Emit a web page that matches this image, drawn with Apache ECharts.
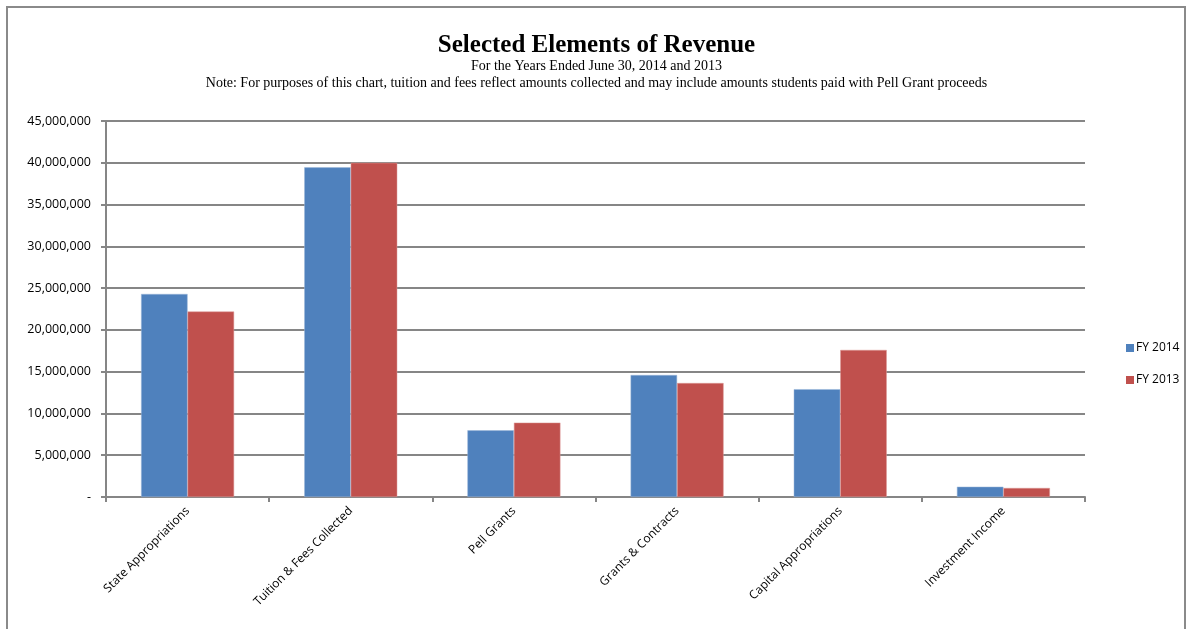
<!DOCTYPE html>
<html>
<head>
<meta charset="utf-8">
<script src="https://cdn.jsdelivr.net/npm/echarts@6/dist/echarts.min.js"></script>
<style>
  html, body { margin: 0; padding: 0; background: #fff; }
  #frame {
    position: absolute; left: 6px; top: 6px; width: 1180px; height: 640px;
    border: 2px solid #8a8a8a; box-sizing: border-box;
  }
  #main { position: absolute; left: 0; top: 0; width: 1193px; height: 629px; }
</style>
</head>
<body>
<div id="frame"></div>
<div id="main"></div>
<script>
const categories = [
  'State Appropriations',
  'Tuition & Fees Collected',
  'Pell Grants',
  'Grants & Contracts',
  'Capital Appropriations',
  'Investment Income'
]
const fy2014 = [24300000, 39450000, 7980000, 14600000, 12900000, 1230000]
const fy2013 = [22200000, 40000000, 8900000, 13640000, 17600000, 1080000]
const seriesNames = ['FY 2014', 'FY 2013']

const chart = echarts.init(document.getElementById('main'))

const labelFont = '"Open Sans", "Liberation Sans", sans-serif'
const titleFont = '"Liberation Serif", "DejaVu Serif", serif'

const option = {
  animation: false,
  title: [
    {
      text: 'Selected Elements of Revenue',
      left: 'center',
      top: 28,
      textStyle: { fontFamily: titleFont, fontWeight: 'bold', fontSize: 25, color: '#000' }
    },
    {
      text: 'For the Years Ended June 30, 2014 and 2013',
      left: 'center',
      top: 54,
      textStyle: { fontFamily: titleFont, fontWeight: 'normal', fontSize: 14, color: '#000' }
    },
    {
      text: 'Note: For purposes of this chart, tuition and fees reflect amounts collected and may include amounts students paid with Pell Grant proceeds',
      left: 'center',
      top: 71,
      textStyle: { fontFamily: titleFont, fontWeight: 'normal', fontSize: 14, color: '#000' }
    }
  ],
  legend: {
    orient: 'vertical',
    left: 1121,
    top: 337,
    itemWidth: 8,
    itemHeight: 8,
    itemGap: 20,
    icon: 'rect',
    itemStyle: { borderWidth: 0 },
    textStyle: { fontFamily: labelFont, fontSize: 12, color: '#000', padding: [0, 0, 0, -3] },
    data: seriesNames
  },
  grid: { left: 106, right: 108, top: 121, bottom: 132 },
  xAxis: {
    type: 'category',
    data: categories,
    axisLine: { lineStyle: { color: '#868686', width: 2 } },
    axisTick: { show: true, length: 5, alignWithLabel: false, lineStyle: { color: '#868686', width: 2 } },
    axisLabel: {
      rotate: 45,
      interval: 0,
      margin: 12,
      fontFamily: labelFont,
      fontSize: 12,
      color: '#000'
    }
  },
  yAxis: {
    type: 'value',
    min: 0,
    max: 45000000,
    interval: 5000000,
    axisLine: { show: true, lineStyle: { color: '#868686', width: 2 } },
    axisTick: { show: true, length: 5, lineStyle: { color: '#868686', width: 2 } },
    splitLine: { show: true, lineStyle: { color: '#868686', width: 2 } },
    axisLabel: {
      margin: 15,
      fontFamily: labelFont,
      fontSize: 12.5,
      color: '#000',
      formatter: function (v) {
        return v === 0 ? '-' : v.toLocaleString('en-US')
      }
    }
  },
  series: [
    {
      name: seriesNames[0],
      type: 'bar',
      data: fy2014,
      barWidth: 46.5,
      barGap: '0%',
      itemStyle: { color: '#4f81bd', borderColor: '#9cb6d8', borderWidth: 0.5 }
    },
    {
      name: seriesNames[1],
      type: 'bar',
      data: fy2013,
      barWidth: 46.5,
      barGap: '0%',
      itemStyle: { color: '#c0504d', borderColor: '#dc9a98', borderWidth: 0.5 }
    }
  ]
}

option && chart.setOption(option)
</script>
</body>
</html>
